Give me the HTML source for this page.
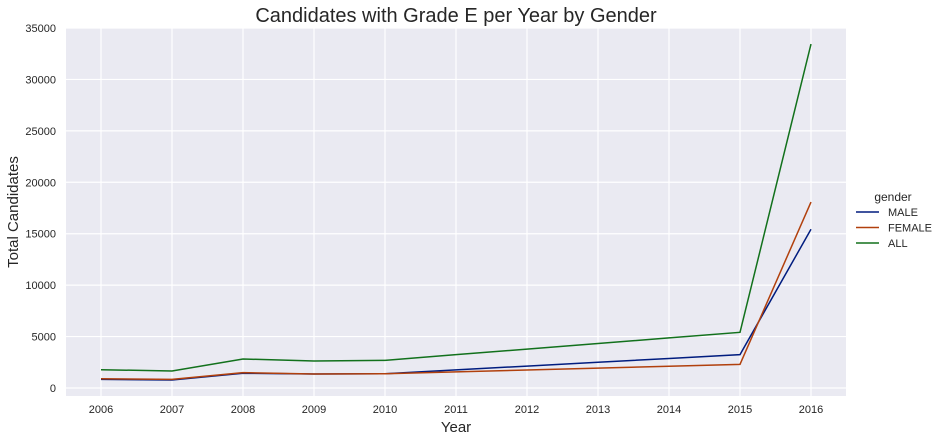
<!DOCTYPE html>
<html><head><meta charset="utf-8"><style>
body{margin:0;background:#fff;font-family:"Liberation Sans",Arial,sans-serif}
svg text{font-family:"Liberation Sans",Arial,sans-serif;fill:#262626}
</style></head><body>
<svg id="c" width="940" height="441"></svg>
<script>
const years=[2006,2007,2008,2009,2010,2011,2012,2013,2014,2015,2016];
const male=[840,780,1430,1360,1390,1760,2130,2500,2870,3240,15430];
const female=[900,840,1490,1360,1390,1570,1750,1930,2120,2300,18080];
const all=[1780,1650,2820,2625,2690,3240,3780,4330,4870,5410,33440];
const yTicks=[0,5000,10000,15000,20000,25000,30000,35000];
const seriesNames=["MALE","FEMALE","ALL"];
const colors=["#001c7f","#b1400d","#12711c"];
const NS="http://www.w3.org/2000/svg";
const svg=document.getElementById('c');
const L=66,R=846,T=28,B=396;
const x=v=>101+(v-2006)*71;
const y=v=>388-v*360/35000;
function el(t,a,p){const e=document.createElementNS(NS,t);for(const k in a)e.setAttribute(k,a[k]);(p||svg).appendChild(e);return e;}
const bg=el('rect',{x:L,y:T,width:R-L,height:B-T,fill:'#eaeaf2'});


yTicks.forEach(v=>{
 const g=el('line',{x1:L,x2:R,y1:y(v),y2:y(v),stroke:'#fff','stroke-width':1.2});
 
 
 const t=el('text',{x:L-10,y:y(v)+4,'text-anchor':'end','font-size':11});
 t.textContent=v;
 
 
});
years.forEach(v=>{
 const g=el('line',{x1:x(v),x2:x(v),y1:T,y2:B,stroke:'#fff','stroke-width':1.2});
 
 
 const t=el('text',{x:x(v),y:B+17,'text-anchor':'middle','font-size':11});
 t.textContent=v;
 
 
});
[male,female,all].forEach((s,i)=>{
 const p=el('polyline',{points:s.map((v,j)=>x(years[j])+','+y(v)).join(' '),fill:'none',stroke:colors[i],'stroke-width':1.5});
 
 
});
const tt=el('text',{x:(L+R)/2,y:22,'text-anchor':'middle','font-size':20});
tt.textContent='Candidates with Grade E per Year by Gender';


const xl=el('text',{x:(L+R)/2,y:432,'text-anchor':'middle','font-size':15});
xl.textContent='Year';


const yl=el('text',{x:0,y:0,'text-anchor':'middle','font-size':15,transform:'translate(18,212) rotate(-90)'});
yl.textContent='Total Candidates';


const lt=el('text',{x:893,y:201,'text-anchor':'middle','font-size':12});
lt.textContent='gender';


seriesNames.forEach((n,i)=>{
 const yy=212+i*15.5;
 const g=el('g',{});
 
 
 el('line',{x1:856,x2:879,y1:yy,y2:yy,stroke:colors[i],'stroke-width':1.5},g);
 const t=el('text',{x:888,y:yy+4,'font-size':11},g);
 t.textContent=n;
});
</script>
</body></html>
